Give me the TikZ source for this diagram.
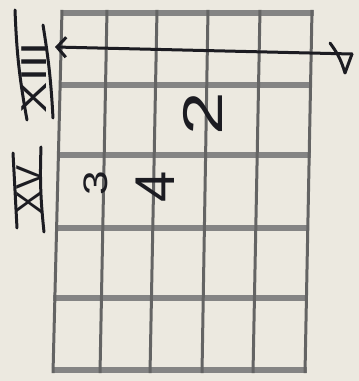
\documentclass[tikz,border=0pt]{standalone}
\usepackage{fontspec}
\setmainfont{Liberation Sans}
\usetikzlibrary{arrows.meta}
\definecolor{paper}{RGB}{236,233,224}
\definecolor{ink}{RGB}{28,28,34}
\definecolor{fretgray}{RGB}{132,132,132}
\definecolor{strgray}{RGB}{100,100,100}
\begin{document}
\begin{tikzpicture}[x=1pt,y=1pt,
  fretline/.style={draw=fretgray,line width=6.5pt},
  stringline/.style={draw=strgray,line width=3pt},
  inkline/.style={draw=ink,line width=3pt,line cap=round,line join=round},
  hand/.style={text=ink,inner sep=0pt}]
\useasboundingbox (0,0) rectangle (359,381);
\fill[paper] (0,0) rectangle (359,381);
% frets (thick horizontal lines)
\draw[fretline] (60.5,368) -- (313.5,368);
\draw[fretline] (58.7,296) -- (312.1,296);
\draw[fretline] (56.9,226) -- (310.7,226);
\draw[fretline] (55.1,153) -- (309.3,153);
\draw[fretline] (53.3,83) -- (307.9,83);
\draw[fretline] (51.5,11) -- (306.5,11);
% strings (vertical lines)
\draw[stringline] (62,371.2) -- (53,7.8);
\draw[stringline] (107,371.2) -- (100,7.8);
\draw[stringline] (157,371.2) -- (150,7.8);
\draw[stringline] (208,371.2) -- (202,7.8);
\draw[stringline] (260,371.2) -- (253,7.8);
\draw[stringline] (312,371.2) -- (305,7.8);
% arrow
\coordinate (hook) at (330,338);
\coordinate (low) at (345,308);
\coordinate (tipR) at (352,327);
\coordinate (tipL) at (55,334);
\draw[inkline] (hook) to[bend left=10] (low) -- (tipR);
\draw[inkline,-{Straight Barb[length=9pt,width=20pt]}] (tipR) -- (tipL);
% roman numeral XIII with bars
\draw[inkline] (15,371) to[bend right=4] (27,261);
\draw[inkline] (43,356) to[bend left=3] (53,263);
\node[hand,rotate=90] (n13) at (34,303)
  {\fontsize{36}{36}\selectfont\scalebox{1.3}[1]{XIII}};
% roman numeral XV with bars
\draw[inkline] (13,228) -- (17,153);
\draw[inkline] (41,234) to[bend right=4] (44,149);
\node[hand,rotate=90] (n15) at (29,191)
  {\fontsize{36}{36}\selectfont XV};
% finger numbers
\node[hand,rotate=90] (f2) at (203,267)
  {\fontsize{56}{56}\selectfont\scalebox{1.4}[1]{2}};
\node[hand,rotate=90] (f3) at (96,198)
  {\fontsize{34}{34}\selectfont\scalebox{1.3}[1]{3}};
\node[hand,rotate=90] (f4) at (155,194)
  {\fontsize{56}{56}\selectfont 4};
\end{tikzpicture}
\end{document}
